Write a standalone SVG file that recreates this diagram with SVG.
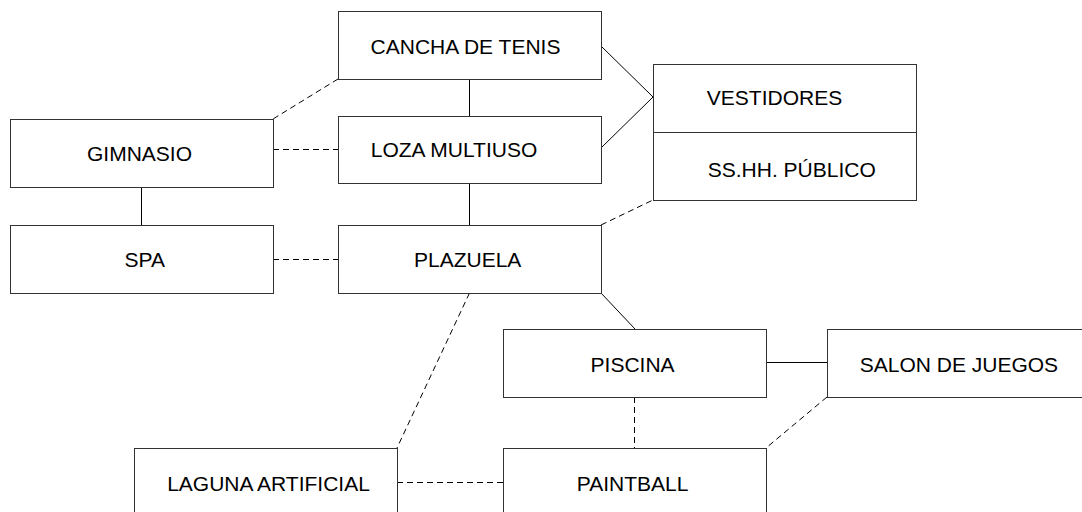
<svg xmlns="http://www.w3.org/2000/svg" width="1082" height="512" viewBox="0 0 1082 512">
<style>
.box{fill:#fff;stroke:#333;stroke-width:1}
.lbl{font-family:"Liberation Sans",Arial,sans-serif;font-size:21px;fill:#000;text-anchor:middle}
.c{stroke:#000;stroke-width:1;fill:none}
.d{stroke:#000;stroke-width:1;fill:none;stroke-dasharray:6,4}
</style>
<rect width="1082" height="512" fill="#fff"/>
<g id="connectors">
<line class="c" x1="601" y1="46" x2="653" y2="97"/>
<line class="c" x1="601" y1="148" x2="653" y2="97"/>
<line class="c" x1="469.5" y1="79" x2="469.5" y2="116"/>
<line class="c" x1="469.5" y1="184" x2="469.5" y2="225"/>
<line class="c" x1="141.5" y1="187" x2="141.5" y2="225"/>
<line class="c" x1="601" y1="293" x2="635" y2="329"/>
<line class="c" x1="766" y1="362.5" x2="827" y2="362.5"/>
<line class="d" x1="338" y1="79" x2="273" y2="119"/>
<line class="d" x1="273" y1="149.5" x2="338" y2="149.5"/>
<line class="d" x1="273" y1="259.5" x2="338" y2="259.5"/>
<line class="d" x1="601" y1="225" x2="653" y2="200"/>
<line class="d" x1="469.5" y1="293" x2="397" y2="448"/>
<line class="d" x1="634.5" y1="397" x2="634.5" y2="448"/>
<line class="d" x1="827" y1="397" x2="766" y2="448"/>
<line class="d" x1="397" y1="482.5" x2="503" y2="482.5"/>
</g>
<g id="cancha"><rect class="box" x="338.5" y="11.5" width="263" height="68"/><text class="lbl" x="465.5" y="54">CANCHA DE TENIS</text></g>
<g id="loza"><rect class="box" x="338.5" y="116.5" width="263" height="67"/><text class="lbl" x="454" y="157.3">LOZA MULTIUSO</text></g>
<g id="gimnasio"><rect class="box" x="10.5" y="119.5" width="263" height="68"/><text class="lbl" x="139.5" y="161">GIMNASIO</text></g>
<g id="spa"><rect class="box" x="10.5" y="225.5" width="263" height="68"/><text class="lbl" x="144.8" y="266.7">SPA</text></g>
<g id="plazuela"><rect class="box" x="338.5" y="225.5" width="263" height="68"/><text class="lbl" x="467.7" y="266.7">PLAZUELA</text></g>
<g id="vestidores"><rect class="box" x="653.5" y="64.5" width="263" height="68"/><text class="lbl" x="774.5" y="105">VESTIDORES</text></g>
<g id="sshh"><rect class="box" x="653.5" y="132.5" width="263" height="68"/><text class="lbl" x="791.8" y="177.3">SS.HH. PÚBLICO</text></g>
<g id="piscina"><rect class="box" x="503.5" y="329.5" width="263" height="68"/><text class="lbl" x="632.6" y="371.7">PISCINA</text></g>
<g id="salon"><rect class="box" x="827.5" y="329.5" width="263" height="68"/><text class="lbl" x="958.9" y="371.7">SALON DE JUEGOS</text></g>
<g id="laguna"><rect class="box" x="134.5" y="448.5" width="263" height="68"/><text class="lbl" x="268.5" y="490.7">LAGUNA ARTIFICIAL</text></g>
<g id="paintball"><rect class="box" x="503.5" y="448.5" width="263" height="68"/><text class="lbl" x="632.6" y="490.7">PAINTBALL</text></g>
</svg>
